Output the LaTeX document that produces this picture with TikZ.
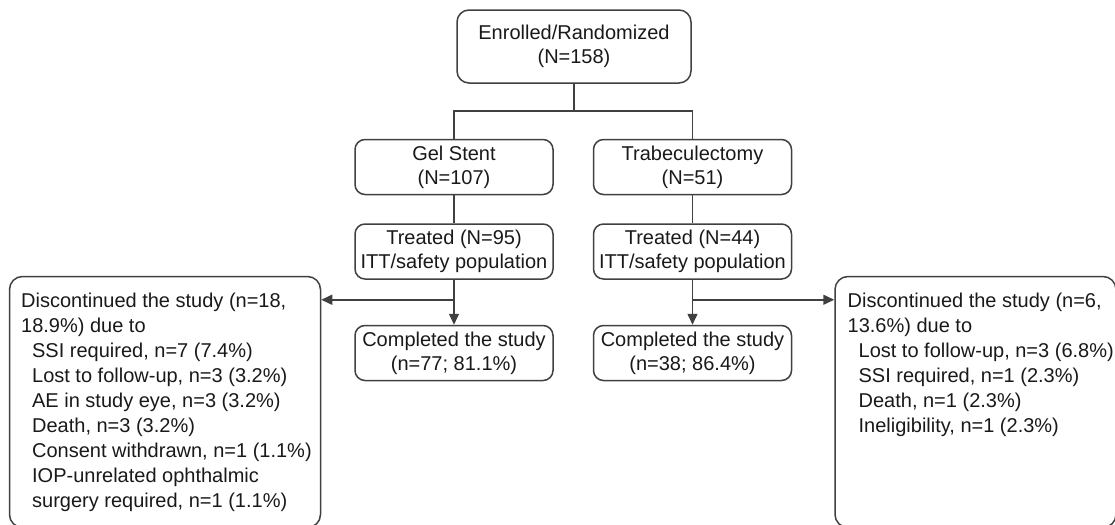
\documentclass[tikz,border=0pt]{standalone}
\usepackage{fontspec}
\setmainfont{Liberation Sans}
\usetikzlibrary{arrows.meta, positioning, calc}
\newcommand{\subind}{\hspace*{5.5pt}}

\begin{document}
\begin{tikzpicture}[
    font=\fontsize{10}{12}\selectfont,
    % Boxes
    box/.style={rectangle, draw=black!75, line width=0.75pt, rounded corners=5pt, minimum width=99pt, minimum height=27.5pt, inner xsep=0.5pt, inner ysep=1pt, align=center, text=black!90},
    topbox/.style={box, rounded corners=6pt, minimum width=117pt, minimum height=36.5pt},
    frame/.style={rectangle, draw=black!75, line width=0.75pt, rounded corners=6.5pt},
    listtxt/.style={inner sep=0pt, align=left, text=black!90, font=\fontsize{10}{12.5}\selectfont},
    % Connectors
    conn/.style={draw=black!75, line width=0.75pt},
    arrow/.style={conn, -{Triangle[length=5.5pt, width=5pt]}},
]
\useasboundingbox (0,0) rectangle (557.5pt,-262.5pt);

% 1. Randomization
\node[topbox] (enrolled) at (287pt,-23.25pt) {Enrolled/Randomized\\(N=158)};

% 2. Study arms
\node[box, below=27.5pt of enrolled, xshift=-60pt] (gel) {Gel Stent\\(N=107)};
\node[box, right=19.5pt of gel] (trab) {Trabeculectomy\\(N=51)};

\node[box, below=14pt of gel] (treat1) {Treated (N=95)\\ITT/safety population};
\node[box, below=14pt of trab] (treat2) {Treated (N=44)\\ITT/safety population};

\node[box, below=22.5pt of treat1] (done1) {Completed the study\\(n=77; 81.1\%)};
\node[box, below=22.5pt of treat2] (done2) {Completed the study\\(n=38; 86.4\%)};

% 3. Discontinued
\node[frame, minimum width=155.5pt, minimum height=125.5pt, anchor=north east] (outL) at ([xshift=-16.5pt, yshift=2pt]treat1.south west) {};
\node[frame, minimum width=140.5pt, minimum height=125.5pt, anchor=north west] (outR) at ([xshift=21pt, yshift=2pt]treat2.south east) {};

\node[listtxt, below right=8.2pt and 6pt of outL.north west] (txtL) {Discontinued the study (n=18,\\18.9\%) due to\\
    \subind SSI required, n=7 (7.4\%)\\
    \subind Lost to follow-up, n=3 (3.2\%)\\
    \subind AE in study eye, n=3 (3.2\%)\\
    \subind Death, n=3 (3.2\%)\\
    \subind Consent withdrawn, n=1 (1.1\%)\\
    \subind IOP-unrelated ophthalmic\\
    \subind surgery required, n=1 (1.1\%)};
\node[listtxt, below right=8.2pt and 6.5pt of outR.north west] (txtR) {Discontinued the study (n=6,\\13.6\%) due to\\
    \subind Lost to follow-up, n=3 (6.8\%)\\
    \subind SSI required, n=1 (2.3\%)\\
    \subind Death, n=1 (2.3\%)\\
    \subind Ineligibility, n=1 (2.3\%)};

% Connections
\draw[conn] (enrolled.south) -- ++(0,-13.5pt) coordinate (split);
\draw[conn] (gel.north) |- (split) -| (trab.north);
\draw[conn] (gel) -- (treat1);
\draw[conn] (trab) -- (treat2);

\path (treat1.south) ++(0,-10pt) coordinate (brL);
\path (treat2.south) ++(0,-10pt) coordinate (brR);
\draw[arrow] (treat1) -- (done1);
\draw[arrow] (treat2) -- (done2);
\draw[arrow] (brL) -- (brL -| outL.east);
\draw[arrow] (brR) -- (brR -| outR.west);

\end{tikzpicture}
\end{document}
